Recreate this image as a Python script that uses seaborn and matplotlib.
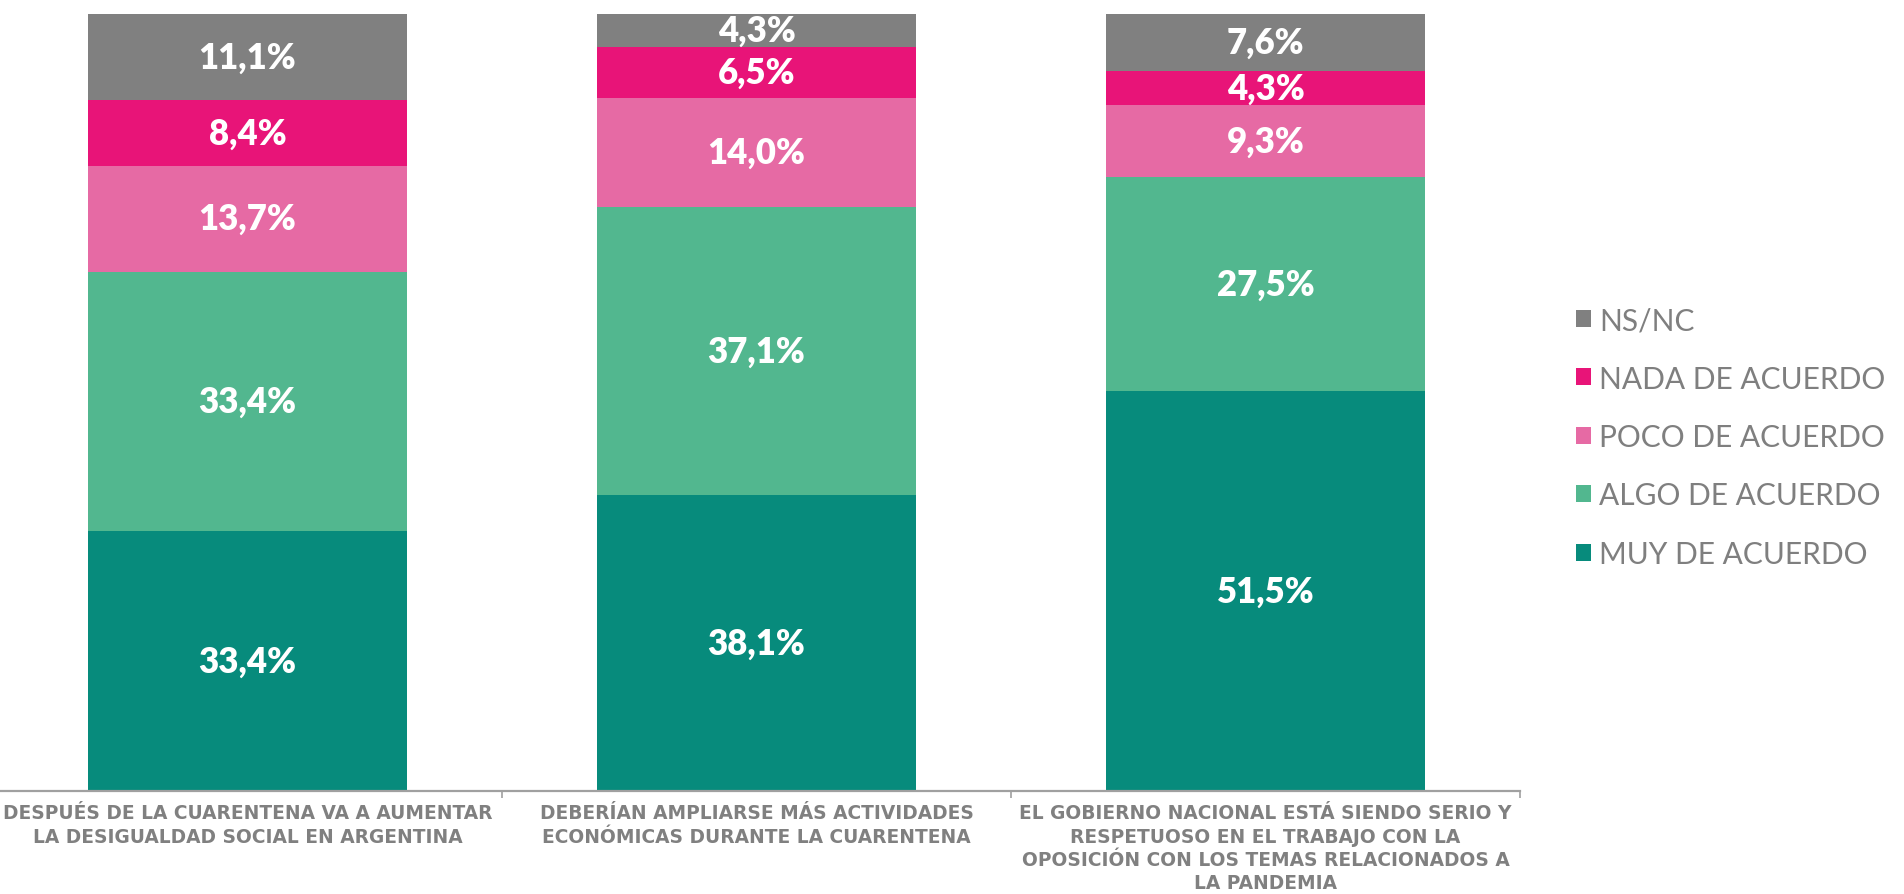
import matplotlib
matplotlib.use("Agg")
import matplotlib.pyplot as plt
import seaborn as sns
import numpy as np
import pandas as pd

# ---- data ----
preguntas = [
    "DESPUÉS DE LA CUARENTENA VA A AUMENTAR\nLA DESIGUALDAD SOCIAL EN ARGENTINA",
    "DEBERÍAN AMPLIARSE MÁS ACTIVIDADES\nECONÓMICAS DURANTE LA CUARENTENA",
    "EL GOBIERNO NACIONAL ESTÁ SIENDO SERIO Y\nRESPETUOSO EN EL TRABAJO CON LA\nOPOSICIÓN CON LOS TEMAS RELACIONADOS A\nLA PANDEMIA",
]
series_names = ["MUY DE ACUERDO", "ALGO DE ACUERDO", "POCO DE ACUERDO", "NADA DE ACUERDO", "NS/NC"]
muy = [33.4, 38.1, 51.5]
algo = [33.4, 37.1, 27.5]
poco = [13.7, 14.0, 9.3]
nada = [8.4, 6.5, 4.3]
nsnc = [11.1, 4.3, 7.6]
colors = ["#078B7C", "#52B78F", "#E66AA4", "#E81478", "#808080"]

values = [muy, algo, poco, nada, nsnc]

# ---- figure ----
sns.set_theme(style="white")
plt.rcParams["font.family"] = ["Lato", "DejaVu Sans"]

W, H = 1904, 895
fig = plt.figure(figsize=(W / 100, H / 100), dpi=100)
ax_left, ax_right, ax_top, ax_bot = -7, 1520, 15, 792
ax = fig.add_axes([ax_left / W, 1 - ax_bot / H, (ax_right - ax_left) / W, (ax_bot - ax_top) / H])

cum = np.cumsum(np.array(values), axis=0)

# draw from top cumulative layer down so lower layers overlay
for i in reversed(range(len(series_names))):
    df = pd.DataFrame({"pregunta": preguntas, "valor": cum[i]})
    sns.barplot(data=df, x="pregunta", y="valor", order=preguntas, color=colors[i],
                saturation=1, width=0.625, ax=ax, label=series_names[i],
                linewidth=0, errorbar=None)
if ax.get_legend() is not None:
    ax.get_legend().remove()

# segment labels
for i in range(len(series_names)):
    for j in range(len(preguntas)):
        v = values[i][j]
        ymid = cum[i][j] - v / 2
        ax.text(j, ymid, f"{v:.1f}%".replace(".", ","), ha="center", va="center",
                color="white", fontsize=25, fontweight="heavy")

ax.set_ylim(0, 100)
ax.set_xlim(-0.5, 2.5)
ax.set_xlabel("")
ax.set_ylabel("")
ax.set_yticks([])
for s in ["top", "right", "left"]:
    ax.spines[s].set_visible(False)
ax.spines["bottom"].set_color("#A0A0A0")
ax.spines["bottom"].set_linewidth(1.6)

ax.set_xticks(range(len(preguntas)))
ax.set_xticklabels(preguntas, fontsize=13.4, fontweight="bold", color="#808080",
                   linespacing=1.27, ha="center", family=["DejaVu Sans"])
ax.tick_params(axis="x", which="major", length=0, pad=9)
ax.set_xticks([-0.5, 0.5, 1.5, 2.5], minor=True)
ax.tick_params(axis="x", which="minor", length=5, width=1.2, color="#A0A0A0", bottom=True)

handles, labels = ax.get_legend_handles_labels()
leg = fig.legend(handles, labels, loc="center left", bbox_to_anchor=(1576 / W, 1 - 438 / H),
                 frameon=False, fontsize=21.5, handlelength=0.5, handleheight=0.5,
                 handletextpad=0.27, labelspacing=1.02, borderpad=0, borderaxespad=0)
for t in leg.get_texts():
    t.set_color("#7F7F7F")

fig.savefig("out.png", dpi=100)
